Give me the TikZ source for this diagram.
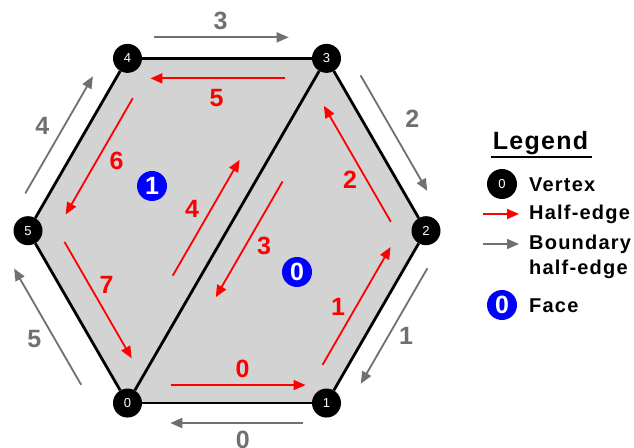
\documentclass[tikz,border=0pt]{standalone}
\usepackage{fontspec}
\setmainfont{Liberation Sans}
\usetikzlibrary{positioning, arrows.meta, calc, backgrounds}
\definecolor{myred}{HTML}{FF0000}
\definecolor{mygray}{HTML}{707070}
\definecolor{myblue}{HTML}{0000FF}
\definecolor{myfill}{HTML}{D3D3D3}

\begin{document}
\begin{tikzpicture}[
    x=1pt, y=1pt,
    % Vertex and face styles
    vertex/.style={
        circle,
        fill=black,
        text=white,
        minimum size=29pt,
        inner sep=0pt,
        font=\fontsize{13}{13}\selectfont
    },
    face/.style={
        circle,
        fill=myblue,
        text=white,
        minimum size=30pt,
        inner sep=0pt,
        font=\bfseries\fontsize{25}{25}\selectfont
    },
    % Edge and arrow styles
    edge/.style={line width=2.8pt, color=black},
    half/.style={-{Triangle[length=12pt,width=10pt]}, line width=1.8pt, color=myred},
    bound/.style={half, color=mygray},
    hlab/.style={inner sep=0pt, text=myred, font=\bfseries\fontsize{25}{25}\selectfont},
    blab/.style={hlab, text=mygray},
    legtext/.style={anchor=base west, inner sep=0pt, font=\bfseries\fontsize{20}{24}\selectfont\addfontfeature{LetterSpace=6}}
]
\useasboundingbox (0,0) rectangle (634,447);

% -- Vertices --
\coordinate (c) at (227,216.3);
\node[vertex] (v0) at ([shift={(240:199)}]c) {0};
\node[vertex] (v1) at ([shift={(300:199)}]c) {1};
\node[vertex] (v2) at ([shift={(0:199)}]c) {2};
\node[vertex] (v3) at ([shift={(60:199)}]c) {3};
\node[vertex] (v4) at ([shift={(120:199)}]c) {4};
\node[vertex] (v5) at ([shift={(180:199)}]c) {5};

% -- Faces --
\begin{scope}[on background layer]
\fill[myfill] (v0.center) -- (v1.center) -- (v2.center) -- (v3.center) -- (v4.center) -- (v5.center) -- cycle;
\end{scope}
\node[face] (f1) at (152,261) {1};
\node[face] (f0) at (297,175) {0};

% -- Edges --
\draw[edge] (v0) -- (v1);
\draw[edge] (v1) -- (v2);
\draw[edge] (v2) -- (v3);
\draw[edge] (v3) -- (v4);
\draw[edge] (v4) -- (v5);
\draw[edge] (v5) -- (v0);
\draw[edge] (v0) -- (v3);

% -- Half-edges (inside the faces) --
\draw[half] ($(v0)!0.22!(v1)!18pt!90:(v1)$) -- ($(v0)!0.895!(v1)!18pt!90:(v1)$);
\draw[half] ($(v1)!0.156!(v2)!22.5pt!90:(v2)$) -- ($(v1)!0.84!(v2)!22.5pt!90:(v2)$);
\draw[half] ($(v2)!0.127!(v3)!26pt!90:(v3)$) -- ($(v2)!0.80!(v3)!26pt!90:(v3)$);
\draw[half] ($(v3)!0.323!(v0)!23.5pt!90:(v0)$) -- ($(v3)!0.659!(v0)!23.5pt!90:(v0)$);
\draw[half] ($(v0)!0.334!(v3)!24.5pt!90:(v3)$) -- ($(v0)!0.67!(v3)!24.5pt!90:(v3)$);
\draw[half] ($(v3)!0.21!(v4)!20pt!90:(v4)$) -- ($(v3)!0.885!(v4)!20pt!90:(v4)$);
\draw[half] ($(v4)!0.16!(v5)!24.5pt!90:(v5)$) -- ($(v4)!0.835!(v5)!24.5pt!90:(v5)$);
\draw[half] ($(v5)!0.14!(v0)!26pt!90:(v0)$) -- ($(v5)!0.816!(v0)!26pt!90:(v0)$);

\node[hlab] (h0) at ($(v0)!0.578!(v1)!33.7pt!90:(v1)$) {0};
\node[hlab] (h1) at ($(v1)!0.446!(v2)!38pt!90:(v2)$) {1};
\node[hlab] (h2) at ($(v2)!0.414!(v3)!40pt!90:(v3)$) {2};
\node[hlab] (h3) at ($(v3)!0.487!(v0)!39.7pt!90:(v0)$) {3};
\node[hlab] (h4) at ($(v0)!0.503!(v3)!41pt!90:(v3)$) {4};
\node[hlab] (h5) at ($(v3)!0.552!(v4)!39.3pt!90:(v4)$) {5};
\node[hlab] (h6) at ($(v4)!0.476!(v5)!42pt!90:(v5)$) {6};
\node[hlab] (h7) at ($(v5)!0.433!(v0)!41pt!90:(v0)$) {7};

% -- Boundary half-edges (outside) --
\draw[bound] ($(v1)!0.12!(v0)!20pt!90:(v0)$) -- ($(v1)!0.785!(v0)!20pt!90:(v0)$);
\draw[bound] ($(v2)!0.16!(v1)!20pt!90:(v1)$) -- ($(v2)!0.83!(v1)!20pt!90:(v1)$);
\draw[bound] ($(v3)!0.16!(v2)!21pt!90:(v2)$) -- ($(v3)!0.83!(v2)!21pt!90:(v2)$);
\draw[bound] ($(v4)!0.135!(v3)!21pt!90:(v3)$) -- ($(v4)!0.81!(v3)!21pt!90:(v3)$);
\draw[bound] ($(v5)!0.156!(v4)!21pt!90:(v4)$) -- ($(v5)!0.835!(v4)!21pt!90:(v4)$);
\draw[bound] ($(v0)!0.196!(v5)!31pt!90:(v5)$) -- ($(v0)!0.87!(v5)!31pt!90:(v5)$);

\node[blab] (b0) at ($(v1)!0.42!(v0)!37.3pt!90:(v0)$) {0};
\node[blab] (b1) at ($(v2)!0.507!(v1)!35.2pt!90:(v1)$) {1};
\node[blab] (b2) at ($(v3)!0.479!(v2)!44pt!90:(v2)$) {2};
\node[blab] (b3) at ($(v4)!0.468!(v3)!37pt!90:(v3)$) {3};
\node[blab] (b4) at ($(v5)!0.491!(v4)!40pt!90:(v4)$) {4};
\node[blab] (b5) at ($(v0)!0.511!(v5)!49pt!90:(v5)$) {5};

% -- Legend --
\node[anchor=base, inner sep=0pt, font=\bfseries\fontsize{25}{25}\selectfont\addfontfeature{LetterSpace=5}] (legtitle) at (540.5,297) {Legend};
\draw[line width=1.8pt] ([xshift=-2pt,yshift=-7pt]legtitle.base west) -- ([xshift=4pt,yshift=-7pt]legtitle.base east);

\node[vertex, minimum size=30pt] (lv) at (502,263) {0};
\node[legtext] (lvtext) at (529,255) {Vertex};

\coordinate (lh1) at (483,233);
\coordinate (lh2) at (519,233);
\draw[half] (lh1) -- (lh2);
\node[legtext] (lhtext) at (529,227.5) {Half-edge};

\coordinate (lb1) at (483,203);
\coordinate (lb2) at (519,203);
\draw[bound] (lb1) -- (lb2);
\node[legtext] (lbtext) at (529,197.5) {Boundary};
\node[legtext] (lbtext2) at (529,172) {half-edge};

\node[face] (lf) at (502,142) {0};
\node[legtext] (lftext) at (529,134) {Face};

\end{tikzpicture}
\end{document}
